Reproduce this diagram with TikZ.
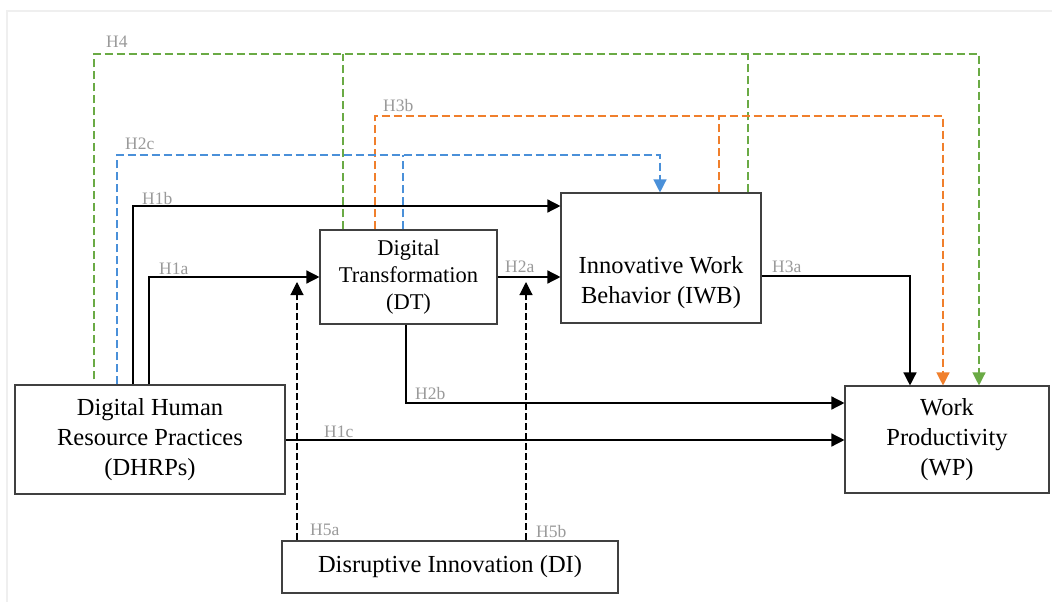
\documentclass[tikz,border=0pt]{standalone}
\usepackage{fontspec}
\setmainfont{Liberation Serif}
\newfontfamily\timesfont{Liberation Serif}
\usetikzlibrary{arrows.meta,calc}
\definecolor{hblue}{HTML}{4A90D9}
\definecolor{horange}{HTML}{F07F2C}
\definecolor{hgreen}{HTML}{6AAA45}
\definecolor{lblgray}{HTML}{9A9A9A}
\definecolor{boxgray}{HTML}{404040}
\definecolor{framegray}{HTML}{EFEFEF}
\begin{document}
\begin{tikzpicture}[x=1pt,y=-1pt,
  box/.style={draw=boxgray,line width=1.1pt,inner sep=0pt,align=center,font=\timesfont\fontsize{24.5}{30}\selectfont},
  lbl/.style={text=lblgray,font=\timesfont\fontsize{17.5}{20}\selectfont,inner sep=0pt,anchor=base west},
  conn/.style={line width=1.4pt},
  tip/.style={-{Triangle[length=13pt,width=13pt]}},
  arr/.style={conn,tip},
  dsh/.style={line width=1.3pt,dash pattern=on 8pt off 4pt},
  bdsh/.style={line width=1.1pt,dash pattern=on 7pt off 3pt}]
\useasboundingbox (0,0) rectangle (1052,602);
\fill[white] (0,0) rectangle (1052,602);
\draw[framegray,line width=2pt] (7,602) -- (7,11) -- (1052,11);

% boxes
\node[box,minimum width=270pt,minimum height=109pt] (dhrp) at (150,439.5) {Digital Human\\Resource Practices\\(DHRPs)};
\node[box,minimum width=177pt,minimum height=94pt,font=\timesfont\fontsize{22.5}{27}\selectfont] (dt) at (408.5,277) {Digital\\Transformation\\(DT)};
\node[box,minimum width=200pt,minimum height=130pt] (iwb) at (661,258) {};
\node[align=center,inner sep=0pt,font=\timesfont\fontsize{24.5}{30}\selectfont] (iwbtext) at (661,283) {Innovative Work\\Behavior (IWB)};
\node[box,minimum width=204pt,minimum height=107pt] (wp) at (947,439.5) {Work\\Productivity\\(WP)};
\node[box,minimum width=336pt,minimum height=52pt] (di) at (450,567) {Disruptive Innovation (DI)};

% coordinates
\coordinate (p4) at (94,54);
\coordinate (q4) at (979,54);
\coordinate (b4a) at (343,54);
\coordinate (b4b) at (748,54);
\coordinate (p3b) at (375,116);
\coordinate (q3b) at (943,116);
\coordinate (b3b) at (719,116);
\coordinate (p2c) at (117,155);
\coordinate (q2c) at (660,155);
\coordinate (b2c) at (403,155);
\coordinate (p1b) at (133,206);
\coordinate (p1a) at (149,277);
\coordinate (q3a) at (910,276);
\coordinate (p2b) at (406,403);
\coordinate (p1c) at (0,440);
\coordinate (t5a) at (297,282);
\coordinate (t5b) at (526,282);

% H4
\draw[dsh,hgreen,tip] ($(dhrp.north -| p4)+(0,-5)$) |- (q4) -- (wp.north -| q4);
\draw[dsh,hgreen] (dt.north -| b4a) -- (b4a);
\draw[dsh,hgreen] (iwb.north -| b4b) -- (b4b);
% H3b
\draw[dsh,horange,tip] (dt.north -| p3b) |- (q3b) -- (wp.north -| q3b);
\draw[dsh,horange] (iwb.north -| b3b) -- (b3b);
% H2c
\draw[dsh,hblue,tip] (dhrp.north -| p2c) |- (q2c) -- (iwb.north -| q2c);
\draw[dsh,hblue] (dt.north -| b2c) -- (b2c);
% H1b, H1a
\draw[arr] (dhrp.north -| p1b) |- (iwb.west |- p1b);
\draw[arr] (dhrp.north -| p1a) |- (dt.west);
% H2a
\draw[arr] (dt.east) -- (iwb.west |- dt.east);
% H3a
\draw[arr] (iwb.east |- q3a) -| (wp.north -| q3a);
% H2b
\draw[arr] (dt.south -| p2b) |- (wp.west |- p2b);
% H1c
\draw[arr] (dhrp.east |- p1c) -- (wp.west |- p1c);
% H5a, H5b
\draw[bdsh,tip] (di.north -| t5a) -- (t5a);
\draw[bdsh,tip] (di.north -| t5b) -- (t5b);

% labels
\node[lbl] (l4) at (106,48) {H4};
\node[lbl] (l3b) at (383,111) {H3b};
\node[lbl] (l2c) at (125,149) {H2c};
\node[lbl] (l1b) at (142,204) {H1b};
\node[lbl] (l1a) at (159,274) {H1a};
\node[lbl] (l2a) at (505,272) {H2a};
\node[lbl] (l3a) at (772,272) {H3a};
\node[lbl] (l2b) at (415,399) {H2b};
\node[lbl] (l1c) at (324,437) {H1c};
\node[lbl] (l5a) at (310,535) {H5a};
\node[lbl] (l5b) at (536,537) {H5b};
\end{tikzpicture}
\end{document}
